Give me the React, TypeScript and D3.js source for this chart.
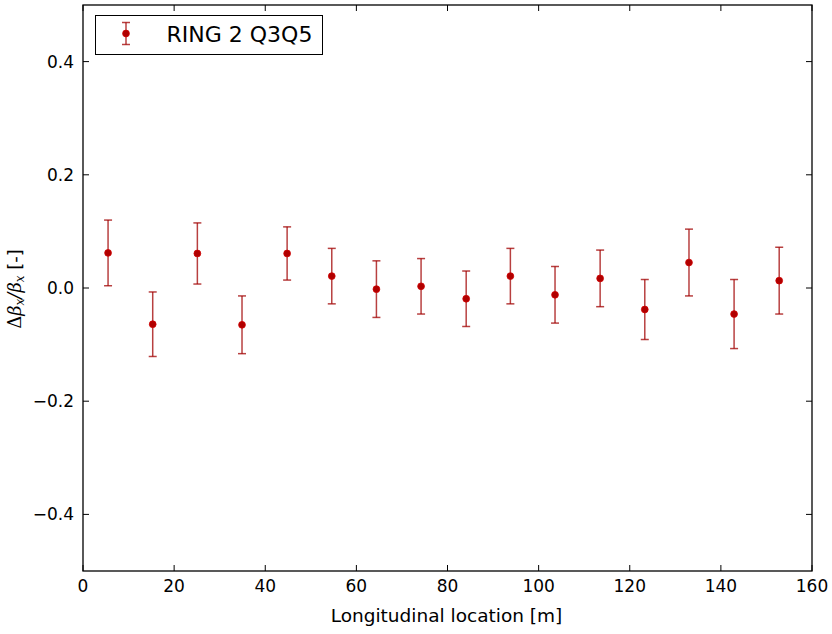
import React from "react";
import * as d3 from "d3";

const positions = [5.5, 15.3, 25.1, 34.9, 44.8, 54.6, 64.4, 74.2, 84.1, 93.8, 103.6, 113.5, 123.3, 133.0, 142.9, 152.8];
const values = [0.062, -0.064, 0.061, -0.065, 0.061, 0.021, -0.002, 0.003, -0.019, 0.021, -0.012, 0.017, -0.038, 0.045, -0.046, 0.013];
const errors = [0.058, 0.057, 0.054, 0.051, 0.047, 0.049, 0.050, 0.049, 0.049, 0.049, 0.050, 0.050, 0.053, 0.059, 0.061, 0.059];
const xTicks = [0, 20, 40, 60, 80, 100, 120, 140, 160];
const yTicks = [-0.4, -0.2, 0.0, 0.2, 0.4];
const seriesName = "RING 2 Q3Q5";

const W = 832, H = 634;
const L = 83, R = 812, T = 5, B = 571;
const FONT = "DejaVu Sans, sans-serif";

export default function App() {
  const x = d3.scaleLinear().domain([0, 160]).range([L, R]);
  const y = d3.scaleLinear().domain([-0.5, 0.5]).range([B, T]);
  const fmtY = (v: number) => {
    const s = Math.abs(v).toFixed(1);
    return v < -1e-9 ? "\u2212" + s : s;
  };
  const ERR = "#a00000";
  const MK = "#b00000";
  const tick = 6;
  return (
    <svg width={W} height={H} style={{ position: "absolute", left: 0, top: 0, background: "#fff" }}>
      <rect x={0} y={0} width={W} height={H} fill="#fff" />
      {xTicks.map((t) => (
        <g key={"xt" + t}>
          <line x1={x(t)} x2={x(t)} y1={B} y2={B - tick} stroke="#000" strokeWidth={1} />
          <line x1={x(t)} x2={x(t)} y1={T} y2={T + tick} stroke="#000" strokeWidth={1} />
          <text x={x(t)} y={592} textAnchor="middle" fontFamily={FONT} fontSize={17} fill="#000">{t}</text>
        </g>
      ))}
      {yTicks.map((t) => (
        <g key={"yt" + t}>
          <line x1={L} x2={L + tick} y1={y(t)} y2={y(t)} stroke="#000" strokeWidth={1} />
          <line x1={R} x2={R - tick} y1={y(t)} y2={y(t)} stroke="#000" strokeWidth={1} />
          <text x={L - 9} y={y(t) + 6} textAnchor="end" fontFamily={FONT} fontSize={17} fill="#000">{fmtY(t)}</text>
        </g>
      ))}
      {positions.map((p, i) => {
        const cx = x(p);
        const y1 = y(values[i] + errors[i]);
        const y2 = y(values[i] - errors[i]);
        return (
          <g key={"e" + i} stroke={ERR} strokeWidth={1.5} strokeOpacity={0.75}>
            <line x1={cx} x2={cx} y1={y1} y2={y2} />
            <line x1={cx - 4} x2={cx + 4} y1={y1} y2={y1} />
            <line x1={cx - 4} x2={cx + 4} y1={y2} y2={y2} />
          </g>
        );
      })}
      {positions.map((p, i) => (
        <circle key={"m" + i} cx={x(p)} cy={y(values[i])} r={3.4} fill={MK} stroke="#d00000" strokeWidth={0.8} />
      ))}
      <rect x={L} y={T} width={R - L} height={B - T} fill="none" stroke="#000" strokeWidth={1.3} />
      <rect x={95.5} y={15.5} width={227} height={39} fill="#fff" stroke="#000" strokeWidth={1} />
      <g stroke={ERR} strokeWidth={1.5} strokeOpacity={0.75}>
        <line x1={126} x2={126} y1={22.5} y2={44.5} />
        <line x1={122} x2={130} y1={22.5} y2={22.5} />
        <line x1={122} x2={130} y1={44.5} y2={44.5} />
      </g>
      <circle cx={126} cy={33.5} r={3.4} fill={MK} stroke="#d00000" strokeWidth={0.8} />
      <text x={166.5} y={41.7} fontFamily={FONT} fontSize={22} fill="#000">{seriesName}</text>
      <text x={(L + R) / 2 - 1} y={622} textAnchor="middle" fontFamily={FONT} fontSize={18.5} fill="#000">Longitudinal location [m]</text>
      <text transform={`translate(21, 289) rotate(-90)`} textAnchor="middle" fontFamily={FONT} fontSize={18} fill="#000">
        <tspan fontFamily="DejaVu Serif, serif">Δ</tspan>
        <tspan fontFamily="DejaVu Serif, serif" fontStyle="italic">β</tspan>
        <tspan fontFamily="DejaVu Serif, serif" fontStyle="italic" fontSize={12} dy={3}>x</tspan>
        <tspan fontFamily="DejaVu Serif, serif" fontStyle="italic" dy={-3}>/β</tspan>
        <tspan fontFamily="DejaVu Serif, serif" fontStyle="italic" fontSize={12} dy={3}>x</tspan>
        <tspan dy={-3}> [-]</tspan>
      </text>
    </svg>
  );
}
